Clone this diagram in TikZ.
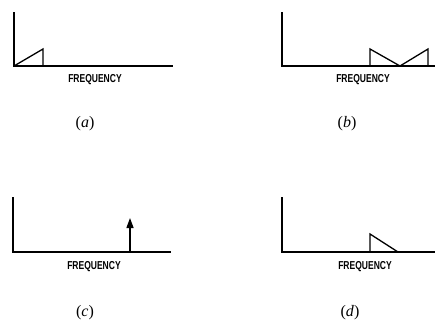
\documentclass[tikz,border=0pt]{standalone}
\usepackage{fontspec}
\newfontfamily\freqfont{Liberation Sans}
\newfontfamily\capfont{Liberation Serif}
\usetikzlibrary{arrows.meta}
\tikzset{
  ax/.style={line width=1.3pt, line cap=rect},
  curve/.style={line width=1.3pt, line join=miter},
  freq/.style={font=\fontsize{11.5}{11.5}\freqfont\bfseries, inner sep=0pt},
  sublabel/.style={font=\fontsize{16}{16}\capfont, inner sep=0pt}
}
\newcommand{\fq}{\scalebox{0.74}[1]{FREQUENCY}}
\begin{document}
\begin{tikzpicture}[x=1pt,y=-1pt]
\useasboundingbox (0,0) rectangle (435,323);
% panel a
\coordinate (aT) at (14,13); \coordinate (aO) at (14,66); \coordinate (aR) at (172,66);
\draw[ax] (aT) -- (aO) -- (aR);
\coordinate (a1) at (43,49); \coordinate (a2) at (43,66);
\draw[curve] (aO) -- (a1) -- (a2);
\node[freq] (fa) at (95,80) {\fq};
\node[sublabel] (la) at (85,124) {(\textit{a})};
% panel b
\coordinate (bT) at (282,13); \coordinate (bO) at (282,66); \coordinate (bR) at (435,66);
\draw[ax] (bT) -- (bO) -- (bR);
\coordinate (b0) at (370,66); \coordinate (b1) at (370,49); \coordinate (b2) at (400,66);
\coordinate (b3) at (428,49); \coordinate (b4) at (428,66);
\draw[curve] (b0) -- (b1) -- (b2) -- (b3) -- (b4);
\node[freq] (fb) at (363,80) {\fq};
\node[sublabel] (lb) at (347,124) {(\textit{b})};
% panel c
\coordinate (cT) at (13,198); \coordinate (cO) at (13,252); \coordinate (cR) at (170,252);
\draw[ax] (cT) -- (cO) -- (cR);
\coordinate (c0) at (130,252); \coordinate (c1) at (130,218);
\draw[line width=1.3pt, -{Triangle[length=10pt,width=7pt]}] (c0) -- (c1);
\node[freq] (fc) at (94,267) {\fq};
\node[sublabel] (lc) at (85,313) {(\textit{c})};
% panel d
\coordinate (dT) at (282,198); \coordinate (dO) at (282,252); \coordinate (dR) at (435,252);
\draw[ax] (dT) -- (dO) -- (dR);
\coordinate (d0) at (370,252); \coordinate (d1) at (370,234); \coordinate (d2) at (398,252);
\draw[curve] (d0) -- (d1) -- (d2);
\node[freq] (fd) at (365,267) {\fq};
\node[sublabel] (ld) at (350,313) {(\textit{d})};
\end{tikzpicture}
\end{document}
